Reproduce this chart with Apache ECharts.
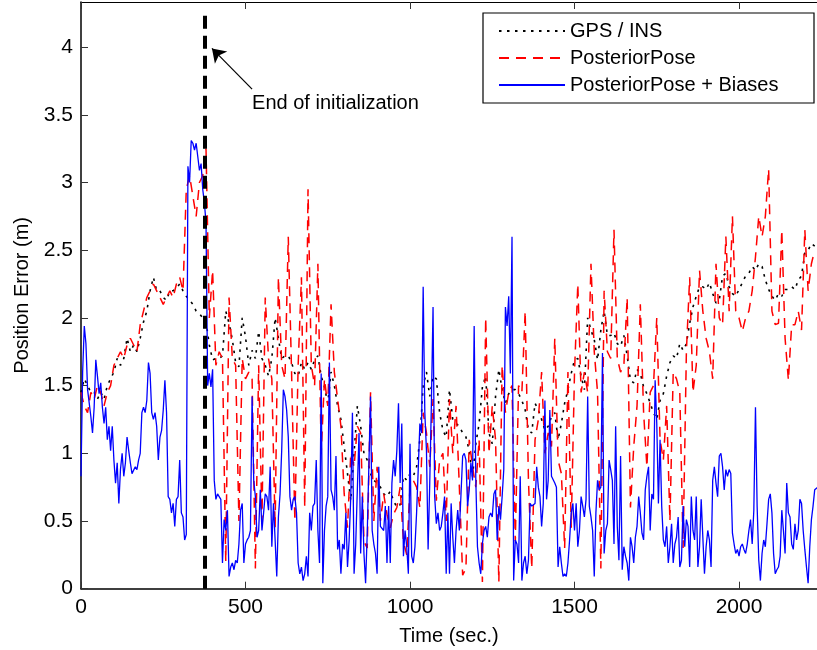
<!DOCTYPE html>
<html>
<head>
<meta charset="utf-8">
<script src="https://cdn.jsdelivr.net/npm/echarts@6/dist/echarts.min.js"></script>
<style>
html,body{margin:0;padding:0;background:#fff;}
#c{width:817px;height:650px;}
</style>
</head>
<body>
<div id="c"></div>
<script>
// ---------------- data ----------------
const SERIES_NAMES = ['GPS / INS', 'PosteriorPose', 'PosteriorPose + Biases'];
const X_TICKS = [0, 500, 1000, 1500, 2000];
const Y_TICKS = [0, 0.5, 1, 1.5, 2, 2.5, 3, 3.5, 4];

// sample spacing (seconds)
const DT = 10;       // GPS/INS and PosteriorPose
const BLUE_DT = 5;   // PosteriorPose + Biases

const GPS_INS = [
1.45,1.55,1.50,1.45,1.45,1.40,1.45,1.40,1.50,1.55,
1.60,1.70,1.65,1.70,1.85,1.75,1.80,1.75,1.85,1.97,
2.05,2.20,2.30,2.20,2.20,2.15,2.13,2.20,2.20,2.22,
2.25,2.20,2.16,2.13,2.10,2.05,2.03,2.00,1.97,1.80,
1.69,1.70,1.70,1.72,2.05,1.96,1.84,1.67,1.64,2.00,
1.86,1.65,1.76,1.70,1.90,1.70,1.65,1.57,1.70,2.00,
1.85,1.70,1.72,1.72,1.67,1.59,1.57,1.67,1.62,1.67,
1.62,1.69,1.72,1.57,1.49,1.37,1.60,1.50,1.35,1.25,
1.05,0.85,0.65,1.00,1.35,1.20,1.00,0.95,0.85,0.80,
0.78,0.75,0.70,0.68,0.72,0.65,0.60,0.62,0.83,0.80,
0.85,0.83,0.90,1.10,1.50,1.60,1.42,1.57,1.55,1.30,
1.17,1.12,1.47,1.25,1.22,1.20,1.15,1.12,1.02,0.83,
1.07,1.22,1.49,1.57,1.15,1.07,1.42,1.62,1.47,1.37,
1.44,1.47,1.47,1.44,1.39,1.32,1.17,1.15,1.37,1.32,
1.25,1.17,1.20,1.27,1.30,1.10,1.22,1.37,1.47,1.59,
1.69,1.70,1.57,1.47,2.00,1.91,1.84,1.69,1.91,2.05,
1.87,1.87,1.89,1.81,1.79,1.87,1.72,1.54,1.52,1.62,
1.59,1.49,1.44,1.37,1.30,1.25,1.39,1.44,1.57,1.67,
1.72,1.70,1.81,1.76,1.81,1.96,2.08,2.16,2.23,2.23,
2.21,2.26,2.18,2.11,2.13,2.31,2.33,2.23,2.18,2.16,
2.21,2.26,2.31,2.33,2.38,2.35,2.40,2.38,2.28,2.21,
2.16,2.13,2.18,2.16,2.21,2.21,2.23,2.21,2.28,2.31,
2.48,2.50,2.55,2.53
];

const POSTERIOR_POSE = [
1.45,1.35,1.30,1.45,1.40,1.50,1.45,1.35,1.45,1.50,
1.65,1.70,1.75,1.70,1.80,1.85,1.80,1.75,1.95,2.05,
2.15,2.20,2.25,2.20,2.15,2.10,2.15,2.20,2.15,2.25,
2.30,2.20,2.95,3.05,2.90,2.75,3.00,3.05,3.25,2.00,
2.35,1.65,1.75,1.70,0.20,2.15,1.70,1.65,0.50,1.70,
1.55,1.60,1.55,0.15,1.65,0.50,2.15,1.70,1.55,0.45,
2.30,1.65,1.55,2.60,1.60,0.50,1.65,2.30,0.60,2.95,
1.65,1.50,2.40,1.00,1.55,1.35,2.10,1.60,1.40,1.20,
0.70,0.45,1.00,0.90,1.20,1.15,0.35,0.30,1.45,0.50,
0.90,0.50,0.70,0.55,0.45,0.55,0.60,0.75,0.35,0.25,
0.75,0.80,0.75,0.60,1.30,1.15,0.90,1.40,0.65,0.95,
1.00,0.50,1.40,1.00,1.35,0.75,0.10,0.15,1.10,0.90,
0.75,1.10,0.05,2.00,1.00,1.35,1.10,0.05,1.65,1.30,
1.45,1.50,0.35,1.50,1.45,2.05,0.80,0.15,1.10,1.25,
1.60,1.00,1.15,1.05,1.85,0.95,0.85,0.30,1.60,0.45,
1.60,2.25,1.45,1.60,1.45,2.40,1.75,1.45,0.15,2.20,
1.75,1.70,2.65,1.70,1.60,1.65,2.15,0.60,1.05,1.35,
2.10,1.30,0.90,1.45,1.50,2.00,1.10,0.95,1.35,0.50,
1.60,1.55,1.45,0.30,1.75,2.30,1.45,1.65,2.35,2.05,
1.85,1.75,1.55,2.40,2.00,1.95,2.60,2.05,2.75,2.05,
2.00,1.90,2.00,2.05,2.20,2.45,2.75,2.60,2.75,3.10,
2.05,1.95,1.96,2.65,1.85,1.54,1.95,1.95,2.05,1.91,
2.65,2.20,2.40,2.50
];

const POSTERIOR_POSE_BIASES = [
0.83,
1.60,1.94,1.81,1.47,1.37,1.27,1.15,1.34,1.69,1.57,
1.44,1.52,1.34,1.22,1.34,1.10,1.20,1.02,1.20,0.95,
0.78,0.93,0.63,0.88,1.00,0.83,0.93,1.12,1.02,0.93,
0.85,0.85,0.90,0.88,0.95,1.00,1.30,1.34,1.30,1.39,
1.67,1.59,1.30,1.25,1.30,1.20,0.95,1.12,1.17,1.32,
1.54,1.30,0.68,0.66,0.56,0.63,0.46,0.66,0.68,0.95,
0.56,0.53,0.36,0.40,3.12,3.00,3.31,3.29,3.24,3.29,
3.19,3.09,3.14,2.95,2.85,2.70,1.50,1.59,1.49,1.62,
0.80,0.66,0.70,0.68,0.66,0.19,0.51,0.43,0.58,0.09,
0.16,0.19,0.14,0.21,0.19,0.33,0.58,0.63,0.19,0.33,
0.36,0.38,0.43,1.42,0.80,0.68,0.38,0.43,0.73,0.43,
0.56,0.70,0.68,0.58,0.90,0.31,0.63,0.36,0.09,0.53,
0.70,1.02,1.47,1.42,1.32,1.12,0.68,0.58,0.66,0.68,
0.56,0.19,0.11,0.16,0.06,0.11,0.24,0.09,0.56,0.43,
0.61,0.63,0.95,0.43,0.19,1.59,0.04,0.43,0.61,0.68,
1.67,0.73,0.68,0.58,0.98,0.29,0.36,0.11,0.33,0.29,
0.56,0.16,0.36,0.68,1.30,0.11,0.33,0.33,1.15,0.26,
0.68,0.26,0.04,0.41,0.41,1.42,0.43,0.33,0.26,0.11,
0.90,0.46,0.46,0.43,0.61,0.19,0.61,0.19,0.78,0.95,
0.83,1.02,1.37,0.78,1.22,0.24,0.43,0.31,0.11,1.07,
0.24,0.19,0.31,0.56,0.88,1.22,1.15,2.23,1.30,1.02,
0.29,0.78,1.37,2.08,0.68,0.48,0.56,0.43,0.46,0.56,
0.68,0.11,0.56,0.11,0.63,0.38,0.19,0.43,0.58,0.43,
0.70,0.98,1.00,0.95,0.61,0.73,0.93,0.80,1.94,0.80,
0.31,0.19,0.11,0.33,0.43,0.46,0.38,0.53,0.56,0.53,
0.70,0.73,0.36,0.61,0.51,0.68,0.88,2.08,1.94,2.16,
1.59,2.60,0.06,0.36,0.33,0.19,0.83,0.06,0.19,0.24,
0.11,0.21,0.63,0.61,0.61,0.63,0.90,0.75,0.68,0.46,
0.63,1.39,0.66,0.80,1.32,0.83,0.83,0.78,0.75,0.16,
0.31,0.19,0.09,0.11,0.09,0.19,0.36,0.56,0.63,0.43,
0.63,0.31,0.43,0.68,0.61,0.53,0.66,1.42,0.61,0.53,
0.43,0.09,0.56,0.80,0.73,0.75,1.74,0.26,0.43,0.48,
0.95,0.88,0.80,0.33,1.20,0.46,0.21,0.98,0.14,0.31,
0.24,0.19,0.06,0.38,0.31,0.19,0.38,0.46,0.68,0.56,
0.41,0.36,0.73,0.83,0.90,0.43,0.70,0.66,1.54,1.22,
0.63,1.10,0.61,0.36,0.31,0.46,0.19,0.31,0.48,0.19,
0.33,0.38,0.53,0.16,0.21,0.61,0.31,0.51,0.46,0.16,
0.68,0.43,0.36,0.68,0.16,0.31,0.66,0.38,0.11,0.31,
0.43,0.36,0.16,0.80,0.90,0.78,0.68,0.98,1.00,0.90,
0.73,0.88,0.83,0.88,0.85,0.41,0.33,0.26,0.29,0.24,
0.31,0.33,0.29,0.26,0.33,0.43,0.51,0.33,0.58,1.34,
0.61,0.21,0.06,0.26,0.36,0.31,0.48,0.66,0.70,0.56,
0.26,0.11,0.14,0.16,0.24,0.58,0.43,0.26,0.78,0.56,
0.53,0.33,0.29,0.48,0.36,0.43,0.66,0.63,0.43,0.29,
0.16,0.04,0.31,0.51,0.61,0.73,0.73,0.75
];

// annotation
const INIT_TIME = 377;
const INIT_LINE_TOP = 4.24;
const ARROW_FROM = [520, 3.69];
const ARROW_TO = [398, 3.99];
const ANNOTATION_TEXT = 'End of initialization';

const X_MIN = 0, X_MAX = 2237, X_STEP = 500;
const Y_MIN = 0, Y_MAX = 4.333, Y_STEP = 0.5;

// ---------------- chart ----------------
const FONT = "'Liberation Sans', Arial, Helvetica, sans-serif";
const toPairs = (arr, dt) => arr.map((v, i) => [i * dt, v]);
const inList = (list) => (v) => list.some(t => Math.abs(t - v) < 1e-6) ? String(v) : '';

const chart = echarts.init(document.getElementById('c'), null, {renderer: 'canvas'});

const axisCommon = {
  type: 'value',
  axisLine: {show: true, lineStyle: {color: '#000', width: 1.5}},
  axisTick: {show: true, inside: true, length: 7, lineStyle: {color: '#333', width: 1}},
  splitLine: {show: false}
};

const option = {
  animation: false,
  backgroundColor: '#fff',
  textStyle: {fontFamily: FONT},
  grid: {left: 81, right: 0, top: 2, bottom: 61.3, containLabel: false, outerBoundsMode: 'none'},
  legend: {
    orient: 'vertical',
    left: 483, top: 13,
    data: SERIES_NAMES,
    itemWidth: 66, itemHeight: 14, itemGap: 7,
    padding: [8, 20, 8, 15],
    itemStyle: {opacity: 0},
    textStyle: {fontFamily: FONT, fontSize: 20, color: '#000', lineHeight: 20},
    selectedMode: false
  },
  xAxis: [
    Object.assign({}, axisCommon, {
      min: X_MIN, max: X_MAX, interval: X_STEP,
      position: 'bottom',
      name: 'Time (sec.)', nameLocation: 'middle', nameGap: 38,
      nameTextStyle: {fontFamily: FONT, fontSize: 20, color: '#000'},
      axisLabel: {show: true, margin: 8, fontFamily: FONT, fontSize: 21, color: '#000',
        showMaxLabel: false, formatter: inList(X_TICKS)}
    }),
    Object.assign({}, axisCommon, {
      min: X_MIN, max: X_MAX, interval: X_STEP,
      position: 'top',
      axisLine: {show: true, lineStyle: {color: '#000', width: 1.2}},
      axisLabel: {show: false}
    })
  ],
  yAxis: [
    Object.assign({}, axisCommon, {
      min: Y_MIN, max: Y_MAX, interval: Y_STEP,
      position: 'left',
      name: 'Position Error (m)', nameLocation: 'middle', nameGap: 48,
      nameTextStyle: {fontFamily: FONT, fontSize: 20, color: '#000'},
      axisLabel: {show: true, margin: 8, fontFamily: FONT, fontSize: 21, color: '#000',
        showMaxLabel: false, formatter: inList(Y_TICKS)}
    })
  ],
  series: [
    {
      name: SERIES_NAMES[0], type: 'line', xAxisIndex: 0, yAxisIndex: 0,
      data: toPairs(GPS_INS, DT),
      symbol: 'none', showSymbol: false, sampling: null,
      lineStyle: {color: '#000', width: 1.6, type: [2.5, 5.5]},
      itemStyle: {color: '#000'},
      z: 2
    },
    {
      name: SERIES_NAMES[1], type: 'line', xAxisIndex: 0, yAxisIndex: 0,
      data: toPairs(POSTERIOR_POSE, DT),
      symbol: 'none', showSymbol: false,
      lineStyle: {color: '#ff0000', width: 1.5, type: [10, 7]},
      itemStyle: {color: '#ff0000'},
      z: 3
    },
    {
      name: SERIES_NAMES[2], type: 'line', xAxisIndex: 0, yAxisIndex: 0,
      data: toPairs(POSTERIOR_POSE_BIASES, BLUE_DT),
      symbol: 'none', showSymbol: false,
      lineStyle: {color: '#0000ff', width: 1.3, type: 'solid'},
      itemStyle: {color: '#0000ff'},
      z: 4,
      markLine: {
        silent: true,
        animation: false,
        label: {show: false},
        data: [
          [
            {coord: [INIT_TIME, Y_MIN], symbol: 'none',
              lineStyle: {color: '#000', width: 4, type: [13, 7]}},
            {coord: [INIT_TIME, INIT_LINE_TOP], symbol: 'none'}
          ],
          [
            {coord: ARROW_FROM, symbol: 'none',
              lineStyle: {color: '#000', width: 1.2, type: 'solid'}},
            {coord: ARROW_TO, symbol: 'arrow', symbolSize: 13}
          ]
        ]
      }
    }
  ]
};

chart.setOption(option);

// legend frame and annotation text
const tail = chart.convertToPixel({xAxisIndex: 0, yAxisIndex: 0}, ARROW_FROM);
chart.setOption({
  graphic: [
    {
      type: 'rect', z: 0,
      shape: {x: 483, y: 13, width: 331, height: 90},
      style: {fill: '#fff', stroke: '#000', lineWidth: 1.2}
    },
    {
      type: 'text', z: 10,
      x: tail[0], y: tail[1] + 14,
      style: {text: ANNOTATION_TEXT, font: '20px ' + FONT, fill: '#000',
        textAlign: 'left', textVerticalAlign: 'middle'}
    }
  ]
});
</script>
</body>
</html>
